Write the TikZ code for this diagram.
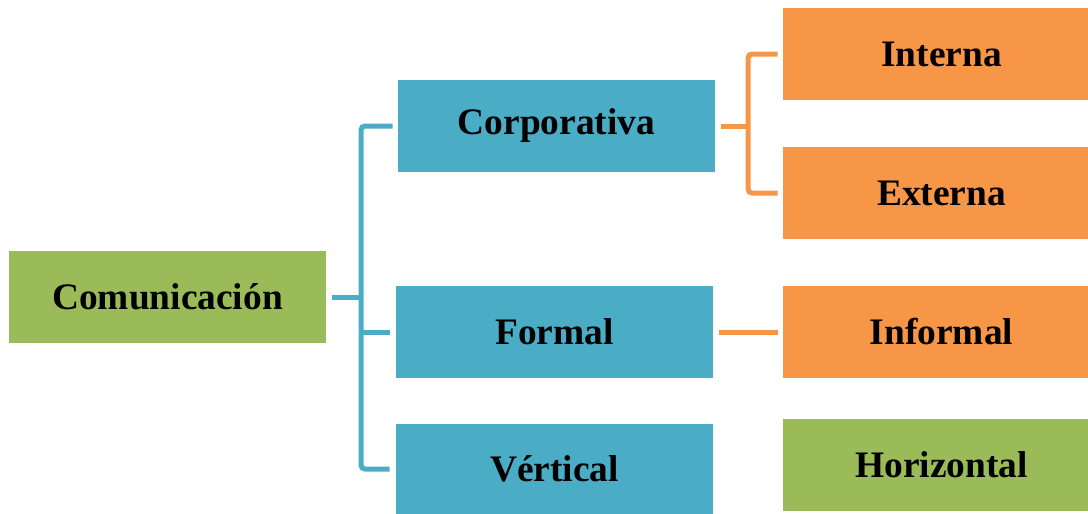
\documentclass[tikz,border=0pt]{standalone}
\usepackage{fontspec}
\setmainfont{Liberation Serif}
\usetikzlibrary{calc}
\definecolor{verde}{HTML}{9BBB59}
\definecolor{azul}{HTML}{4BACC6}
\definecolor{naranja}{HTML}{F79646}
\tikzset{
	caja/.style={rectangle, inner sep=0pt, minimum height=46pt, minimum width=158.5pt, font=\fontsize{18.7}{22}\selectfont\bfseries},
	cajaverde/.style={caja, fill=verde},
	cajaazul/.style={caja, fill=azul},
	cajanaranja/.style={caja, fill=naranja},
	linazul/.style={line width=2.5pt, color=azul, rounded corners=2pt},
	linnaranja/.style={line width=2.5pt, color=naranja, rounded corners=2pt}
}
\begin{document}
\begin{tikzpicture}[x=0.5pt, y=-0.5pt]
		%%%%% START %%%%%
		\useasboundingbox (0, 0) rectangle (1088, 514);
		
		\node[cajaverde] (com) at (167.5, 297) {Comunicación};
		
		\node[cajaazul] (corp) at (556.5, 126) {Corporativa};
		\node[cajaazul] (formal) at (554.5, 332) {Formal};
		\node[cajaazul, minimum height=45pt] (vert) at (554.5, 469) {Vértical};
		
		% las cajas de la derecha salen del borde
		\node[cajanaranja] (inter) at (941.5, 54) {Interna};
		\node[cajanaranja] (exter) at (941.5, 193) {Externa};
		\node[cajanaranja] (infor) at (941.5, 332) {Informal};
		\node[cajaverde] (hori) at (941.5, 465) {Horizontal};
		
		% ramas azules
		\coordinate (bj) at (361, 297);
		\draw[linazul] ([xshift=3pt]com.east) -- (bj);
		\draw[linazul] (bj) |- ([xshift=-2.5pt]corp.west);
		\draw[linazul] (bj) |- ([xshift=-3pt]vert.west);
		\draw[linazul] (bj |- formal.west) -- ([xshift=-3pt]formal.west);
		
		% ramas naranjas
		\coordinate (oj) at (748, 126);
		\draw[linnaranja] ([xshift=3pt]corp.east) -- (oj);
		\draw[linnaranja] (oj) |- ([xshift=-2.5pt]inter.west);
		\draw[linnaranja] (oj) |- ([xshift=-2.5pt]exter.west);
		\draw[linnaranja] ([xshift=3pt]formal.east) -- ([xshift=-2.5pt]infor.west);
		%%%%% END %%%%%
	\end{tikzpicture}
\end{document}
